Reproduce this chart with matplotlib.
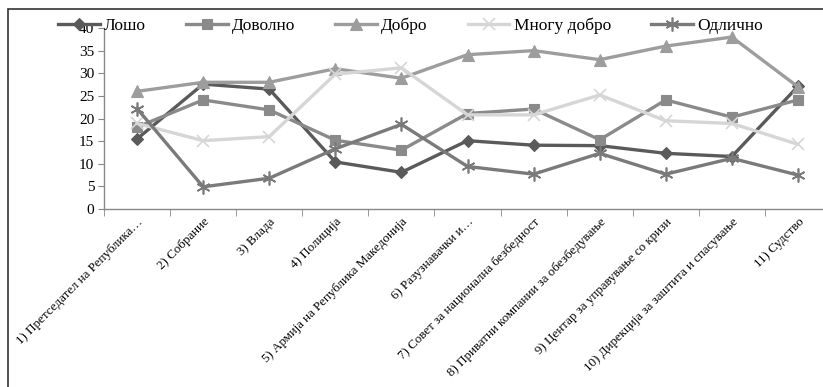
import matplotlib.pyplot as plt
from matplotlib.patches import Rectangle
from matplotlib.ticker import FixedLocator

plt.rcParams['font.family'] = ['Liberation Serif', 'DejaVu Serif']

categories = [
    '1) Претседател на Република…',
    '2) Собрание',
    '3) Влада',
    '4) Полиција',
    '5) Армија на Република Македонија',
    '6) Разузнавачки и…',
    '7) Совет за национална безбедност',
    '8) Приватни компании за обезбедување',
    '9) Центар за управување со кризи',
    '10) Дирекција за заштита и спасување',
    '11) Судство',
]

losho = [15.5, 27.6, 26.5, 10.4, 8.1, 15.1, 14.1, 14.0, 12.3, 11.6, 27.1]
dovolno = [18.1, 24.1, 21.9, 15.2, 13.0, 21.1, 22.1, 15.3, 24.1, 20.3, 24.1]
dobro = [26.0, 28.0, 28.0, 31.0, 28.9, 34.1, 35.0, 33.0, 36.0, 38.0, 27.0]
mnogu_dobro = [18.9, 15.1, 16.0, 29.8, 31.2, 20.8, 20.8, 25.2, 19.5, 18.9, 14.3]
odlicno = [22.2, 4.9, 6.8, 13.3, 18.7, 9.4, 7.7, 12.3, 7.7, 11.2, 7.5]

series = [
    ('Лошо', losho, '#5a5a5a', 'D', 6),
    ('Доволно', dovolno, '#8a8a8a', 's', 7),
    ('Добро', dobro, '#9d9d9d', '^', 8),
    ('Многу добро', mnogu_dobro, '#d6d6d6', 'x', 8),
    ('Одлично', odlicno, '#7a7a7a', (6, 2, 0), 10),
]

W, H = 823, 387
fig = plt.figure(figsize=(W / 100, H / 100), dpi=100)
fig.patches.append(Rectangle((8 / W, -0.1), 1.2, (H - 9) / H + 0.1,
                             transform=fig.transFigure, fill=False,
                             edgecolor='#333333', linewidth=1.2))

ax = fig.add_axes([104 / W, (H - 209) / H, 727 / W, 181 / H])
x = list(range(len(categories)))
for name, vals, color, marker, ms in series:
    ax.plot(x, vals, color=color, linewidth=2.4, marker=marker, markersize=ms,
            markeredgewidth=1.2 if marker in ('x', (6, 2, 0)) else 0.8,
            label=name)

ax.set_xlim(-0.5, 10.5)
ax.set_ylim(0, 40)
ax.set_yticks(range(0, 41, 5))
ax.set_xticks(x)
ax.set_xticklabels(categories, rotation=45, ha='right', va='top',
                   rotation_mode='anchor', fontsize=9.4)
ax.xaxis.set_minor_locator(FixedLocator([i - 0.5 for i in range(12)]))
ax.tick_params(axis='x', which='major', length=0, pad=5)
ax.tick_params(axis='x', which='minor', length=5, color='#888888', direction='out')
ax.tick_params(axis='y', length=4, color='#888888', labelsize=11, pad=3)
for side in ('top', 'right'):
    ax.spines[side].set_visible(False)
for side in ('left', 'bottom'):
    ax.spines[side].set_color('#888888')
    ax.spines[side].set_linewidth(1.0)

fig.legend(loc='center left', bbox_to_anchor=(58 / W, 1 - 26 / H), ncol=5,
           frameon=False, fontsize=12.5, handlelength=2.4, columnspacing=2.3,
           handletextpad=0.25, borderaxespad=0, borderpad=0)

fig.savefig('out.png', dpi=100)
